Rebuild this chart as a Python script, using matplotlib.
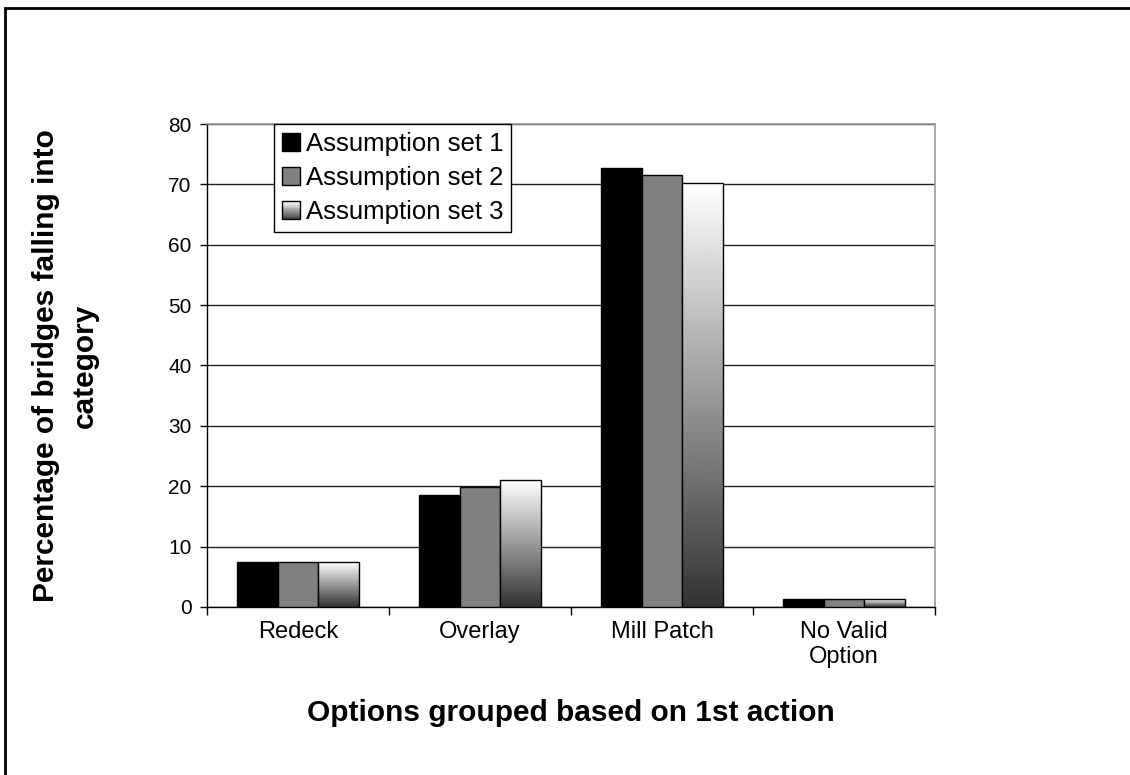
import numpy as np
import matplotlib.pyplot as plt
from matplotlib.patches import Rectangle
from matplotlib.legend_handler import HandlerBase

plt.rcParams['font.family'] = ['Liberation Sans', 'DejaVu Sans']

categories = ['Redeck', 'Overlay', 'Mill Patch', 'No Valid\nOption']
set1 = [7.4, 18.6, 72.7, 1.3]
set2 = [7.4, 19.9, 71.5, 1.3]
set3 = [7.4, 21.0, 70.2, 1.3]
series_names = ['Assumption set 1', 'Assumption set 2', 'Assumption set 3']

# white at the top fading to dark grey at the bottom
grad = np.linspace(1.0, 0.2, 256).reshape(-1, 1)


class GradientHandler(HandlerBase):
    def create_artists(self, legend, orig_handle, xd, yd, w, h, fontsize, trans):
        s = min(w, h)
        arts = []
        n = 20
        for i in range(n):
            c = str(1.0 - 0.75 * (n - 1 - i) / (n - 1))
            arts.append(Rectangle((-xd, -yd + i * s / n), s, s / n,
                                  facecolor=c, edgecolor='none', transform=trans))
        arts.append(Rectangle((-xd, -yd), s, s, facecolor='none',
                              edgecolor='black', lw=1.0, transform=trans))
        return arts


class SquareHandler(HandlerBase):
    def create_artists(self, legend, orig_handle, xd, yd, w, h, fontsize, trans):
        s = min(w, h)
        return [Rectangle((-xd, -yd), s, s, facecolor=orig_handle.get_facecolor(),
                          edgecolor='black', lw=1.0, transform=trans)]


fig = plt.figure(figsize=(11.3, 7.75), dpi=100)
ax = fig.add_axes([0.1832, 0.2168, 0.6442, 0.6232])

x = np.arange(len(categories))
w = 0.2235

ax.set_ylim(0, 80)
ax.set_yticks(np.arange(0, 81, 10))
ax.yaxis.grid(True, color='#222222', lw=1.0)
ax.set_axisbelow(True)

b1 = ax.bar(x - w, set1, w, color='black', edgecolor='black', lw=1.0, zorder=3)
b2 = ax.bar(x, set2, w, color='#808080', edgecolor='black', lw=1.0, zorder=3)
b3 = ax.bar(x + w, set3, w, color='none', edgecolor='black', lw=1.0, zorder=4)

for bar in b3:
    bx, by = bar.get_x(), bar.get_y()
    bw, bh = bar.get_width(), bar.get_height()
    im = ax.imshow(grad, cmap='gray', vmin=0, vmax=1, aspect='auto',
                   extent=(bx, bx + bw, by, by + bh), zorder=3)
    im.set_clip_path(bar)

ax.set_xlim(-0.5, len(categories) - 0.5)
ax.set_ylim(0, 80)

ax.set_xticks(x)
ax.set_xticklabels(categories, fontsize=17)
ax.set_xticks(np.arange(-0.5, len(categories), 1), minor=True)
ax.tick_params(axis='x', which='major', length=0, pad=10)
ax.tick_params(axis='x', which='minor', length=6, width=1, direction='out')
ax.tick_params(axis='y', length=5, width=1, direction='out', labelsize=15, pad=6)

for side in ['top', 'right']:
    ax.spines[side].set_color('#999999')
    ax.spines[side].set_linewidth(1.2)
for side in ['left', 'bottom']:
    ax.spines[side].set_color('black')
    ax.spines[side].set_linewidth(1.0)

ax.set_xlabel('Options grouped based on 1st action', fontsize=21.5, fontweight='bold')
ax.xaxis.set_label_coords(0.5, -0.19)
ax.set_ylabel('Percentage of bridges falling into\ncategory', fontsize=21.5,
              fontweight='bold', linespacing=1.5)
ax.yaxis.set_label_coords(-0.149, 0.5)

proxy3 = Rectangle((0, 0), 1, 1, facecolor='white')
leg = ax.legend([b1[0], b2[0], proxy3], series_names,
                handler_map={b1[0]: SquareHandler(), b2[0]: SquareHandler(),
                             proxy3: GradientHandler()},
                loc='upper left', bbox_to_anchor=(0.092, 1.0), fontsize=18.5,
                frameon=True, fancybox=False, edgecolor='black', framealpha=1,
                handlelength=0.7, handleheight=0.7, handletextpad=0.25,
                borderpad=0.3, labelspacing=0.4, borderaxespad=0)
leg.get_frame().set_linewidth(1.0)
leg.set_zorder(10)

# outer chart border
fig.patches.append(Rectangle((5 / 1130, -0.1), 1.2, 1 - 8 / 775 + 0.1,
                             transform=fig.transFigure, facecolor='none',
                             edgecolor='black', lw=2.0))

fig.savefig('out.png', dpi=100)
